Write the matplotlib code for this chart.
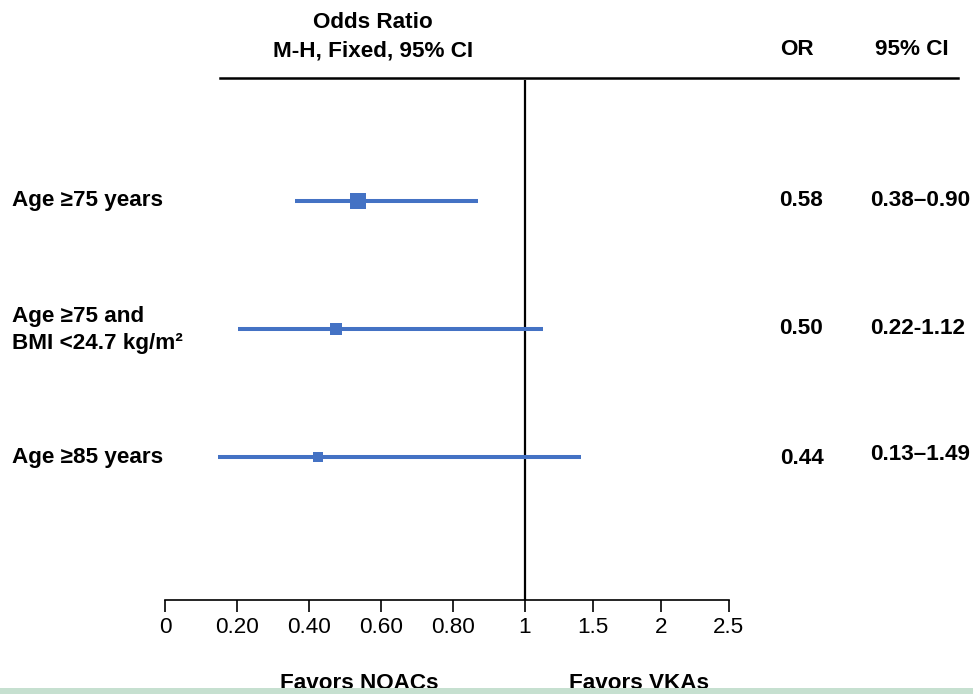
import numpy as np
import matplotlib
matplotlib.use("Agg")
import matplotlib.pyplot as plt
from matplotlib import transforms
from matplotlib.lines import Line2D
from matplotlib.patches import Rectangle

# ---------------- data ----------------
row_labels = [["Age ≥75 years"],
              ["Age ≥75 and", "BMI <24.7 kg/m²"],
              ["Age ≥85 years"]]
point_est = [0.536, 0.475, 0.425]      # plotted square positions
ci_low = [0.361, 0.203, 0.147]
ci_high = [0.869, 1.132, 1.41]
or_text = ["0.58", "0.50", "0.44"]
ci_text = ["0.38–0.90", "0.22-1.12", "0.13–1.49"]
tick_values = [0, 0.2, 0.4, 0.6, 0.8, 1, 1.5, 2, 2.5]
tick_labels = ["0", "0.20", "0.40", "0.60", "0.80", "1", "1.5", "2", "2.5"]

# ---------------- style ----------------
W, H, DPI = 973, 694, 100
plt.rcParams['font.family'] = ['Liberation Sans', 'DejaVu Sans']
blue = '#4472C4'
marker_px = [16, 12, 10]
FS = 16.2

fig = plt.figure(figsize=(W / DPI, H / DPI), dpi=DPI)

def fx(px):
    return px / W

def fy(py):
    return 1 - py / H

ax = fig.add_axes([fx(165), fy(600), fx(729) - fx(165), fy(80) - fy(600)])

k = 136 / 360.0
def fwd(x):
    x = np.asarray(x, dtype=float)
    return np.where(x <= 1, x, 1 + (x - 1) * k)
def inv(u):
    u = np.asarray(u, dtype=float)
    return np.where(u <= 1, u, 1 + (u - 1) / k)
ax.set_xscale('function', functions=(fwd, inv))
ax.set_xlim(0, 2.5)

rows = np.arange(1, len(point_est) + 1)
ax.set_ylim(4.117, 0.055)

for i, r in enumerate(rows):
    ax.plot([ci_low[i], ci_high[i]], [r, r], color=blue, lw=2.9,
            solid_capstyle='butt', zorder=3)
    ax.plot([point_est[i]], [r], marker='s', color=blue,
            markersize=marker_px[i] * 0.72, markeredgewidth=0, zorder=4)

ax.axvline(1, color='black', lw=1.6, zorder=2)

for s in ['top', 'right', 'left']:
    ax.spines[s].set_visible(False)
ax.spines['bottom'].set_linewidth(1.2)
ax.set_yticks([])
ax.set_xticks(tick_values)
ax.set_xticklabels(tick_labels)
ax.tick_params(axis='x', direction='out', length=8.5, width=1.2, pad=4,
               labelsize=FS, colors='black')
ax.minorticks_off()

bt = transforms.blended_transform_factory(fig.transFigure, ax.transData)

for i, r in enumerate(rows):
    lab = row_labels[i]
    if len(lab) == 1:
        ax.text(fx(12), r, lab[0], transform=bt, ha='left', va='center',
                fontsize=FS, fontweight='bold')
    else:
        ax.text(fx(12), r - 0.095, lab[0], transform=bt, ha='left', va='center',
                fontsize=FS, fontweight='bold')
        ax.text(fx(12), r + 0.11, lab[1], transform=bt, ha='left', va='center',
                fontsize=FS, fontweight='bold')
    dy = 0.01 if i == 2 else 0.0
    ax.text(fx(802 if i == 2 else 801), r + dy, or_text[i], transform=bt,
            ha='center', va='center', fontsize=FS, fontweight='bold')
    ax.text(fx(870), r - (0.02 if i == 2 else 0), ci_text[i], transform=bt,
            ha='left', va='center', fontsize=FS, fontweight='bold')

# headers
fig.text(fx(373), fy(28), "Odds Ratio", ha='center', va='baseline',
         fontsize=FS, fontweight='bold')
fig.text(fx(373), fy(56), "M-H, Fixed, 95% CI", ha='center', va='baseline',
         fontsize=FS, fontweight='bold')
fig.text(fx(797), fy(55), "OR", ha='center', va='baseline',
         fontsize=FS, fontweight='bold')
fig.text(fx(912), fy(55), "95% CI", ha='center', va='baseline',
         fontsize=FS, fontweight='bold')
fig.add_artist(Line2D([fx(220), fx(958)], [fy(78), fy(78)], color='black',
                      lw=1.8, transform=fig.transFigure))

# favors labels
fig.text(fx(359), fy(689), "Favors NOACs", ha='center', va='baseline',
         fontsize=FS, fontweight='bold')
fig.text(fx(639), fy(689), "Favors VKAs", ha='center', va='baseline',
         fontsize=FS, fontweight='bold')

fig.add_artist(Rectangle((0, 0), 1, 6 / H, transform=fig.transFigure,
                         facecolor='#c6e0d0', edgecolor='none', zorder=10))

fig.savefig('out.png', dpi=DPI)
